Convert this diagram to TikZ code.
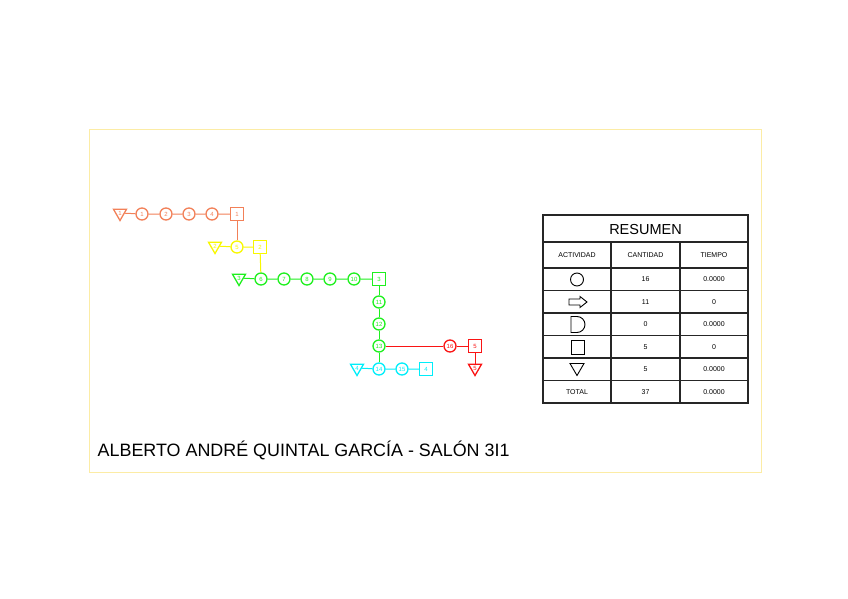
\documentclass[tikz,border=0pt]{standalone}
\usepackage{fontspec}
\setmainfont{Liberation Sans}
\usetikzlibrary{shapes.geometric}
\definecolor{corg}{RGB}{242,128,88}
\definecolor{cyel}{RGB}{248,248,0}
\definecolor{cgrn}{RGB}{30,240,30}
\definecolor{ccyn}{RGB}{0,238,250}
\definecolor{cred}{RGB}{250,20,20}
\definecolor{cfrm}{RGB}{252,236,165}
\tikzset{
  nfont/.style={font=\fontsize{6}{6}\selectfont},
  op/.style={circle,draw,line width=1.3pt,minimum size=12pt,inner sep=0pt,nfont},
  insp/.style={rectangle,draw,line width=1.3pt,minimum size=13pt,inner sep=0pt,nfont},
  stor/.style={regular polygon,regular polygon sides=3,shape border rotate=180,draw,line width=1.3pt,minimum size=15pt,inner sep=0pt,nfont},
  lnk/.style={line width=1pt},
  tline/.style={line width=1.2pt,draw=black!85},
  tsym/.style={line width=0.9pt,draw=black},
  tsmall/.style={font=\fontsize{7}{7}\selectfont},
}
\begin{document}
\begin{tikzpicture}[x=1pt,y=-1pt]
\useasboundingbox (0,0) rectangle (848,599);
\fill[white] (0,0) rectangle (848,599);
\draw[cfrm,line width=0.9pt] (89,129) rectangle (761,472);

% orange row
\begin{scope}[every node/.append style={draw=corg,text=corg}]
\node[stor] (t1) at (120,213) {1};
\node[op] (c1) at (142,214) {1};
\node[op] (c2) at (166,214) {2};
\node[op] (c3) at (189,214) {3};
\node[op] (c4) at (212,214) {4};
\node[insp] (s1) at (237,214) {1};
\end{scope}
% yellow row
\begin{scope}[every node/.append style={draw=cyel,text=cyel}]
\node[stor] (t2) at (215,246) {2};
\node[op] (c5) at (237,247) {5};
\node[insp] (s2) at (260,247) {2};
\end{scope}
% green
\begin{scope}[every node/.append style={draw=cgrn,text=cgrn}]
\node[stor] (t3) at (239,278) {3};
\node[op] (c6) at (261,279) {6};
\node[op] (c7) at (284,279) {7};
\node[op] (c8) at (307,279) {8};
\node[op] (c9) at (330,279) {9};
\node[op] (c10) at (354,279) {10};
\node[insp] (s3) at (379,279) {3};
\node[op] (c11) at (379,302) {11};
\node[op] (c12) at (379,324) {12};
\node[op] (c13) at (379,346) {13};
\end{scope}
% red
\begin{scope}[every node/.append style={draw=cred,text=cred}]
\node[op] (c16) at (450,346) {16};
\node[insp] (s5) at (475,346) {5};
\node[stor] (t5) at (475,368) {5};
\end{scope}
% cyan
\begin{scope}[every node/.append style={draw=ccyn,text=ccyn}]
\node[stor] (t4) at (357,368) {4};
\node[op] (c14) at (379,369) {14};
\node[op] (c15) at (402,369) {15};
\node[insp] (s4) at (426,369) {4};
\end{scope}

\draw[lnk,corg] (t1) -- (c1) -- (c2) -- (c3) -- (c4) -- (s1);
\draw[lnk,corg] (s1) -- (c5);
\draw[lnk,cyel] (t2) -- (c5) -- (s2);
\draw[lnk,cyel] (s2) -- (c6);
\draw[lnk,cgrn] (t3) -- (c6) -- (c7) -- (c8) -- (c9) -- (c10) -- (s3);
\draw[lnk,cgrn] (s3) -- (c11) -- (c12) -- (c13) -- (c14);
\draw[lnk,cred] (c13) -- (c16) -- (s5) -- (t5);
\draw[lnk,ccyn] (t4) -- (c14) -- (c15) -- (s4);

% table
\draw[tline] (543,215) rectangle (748,403);
\foreach \yy in {242,268,290.5,313,335.5,358,380.5} \draw[tline] (543,\yy) -- (748,\yy);
\draw[tline] (611,242) -- (611,403);
\draw[tline] (680,242) -- (680,403);
\node (ttl) at (645.5,229.5) {\fontsize{14.5}{15}\selectfont RESUMEN};
\node[tsmall] (h1) at (577,255.5) {ACTIVIDAD};
\node[tsmall] (h2) at (645.5,255.5) {CANTIDAD};
\node[tsmall] (h3) at (714,255.5) {TIEMPO};
\node[tsmall] (n1) at (645.5,279.5) {16};
\node[tsmall] (n2) at (645.5,302) {11};
\node[tsmall] (n3) at (645.5,324.5) {0};
\node[tsmall] (n4) at (645.5,347) {5};
\node[tsmall] (n5) at (645.5,369.5) {5};
\node[tsmall] (n6) at (645.5,392) {37};
\node[tsmall] (m1) at (714,279.5) {0.0000};
\node[tsmall] (m2) at (714,302) {0};
\node[tsmall] (m3) at (714,324.5) {0.0000};
\node[tsmall] (m4) at (714,347) {0};
\node[tsmall] (m5) at (714,369.5) {0.0000};
\node[tsmall] (m6) at (714,392) {0.0000};
\node[tsmall] (tot) at (577,392) {TOTAL};
% symbols
\draw[tsym] (577,279.5) circle (6.5);
\draw[tsym] (569,299) -- (580,299) -- (580,296.5) -- (587,302) -- (580,307.5) -- (580,305) -- (569,305) -- cycle;
\draw[tsym] (571,316.5) -- (577,316.5) arc[start angle=-90,end angle=90,radius=8] -- (571,332.5) -- cycle;
\draw[tsym] (571,340) rectangle (584,354);
\draw[tsym] (570,363.5) -- (584,363.5) -- (577,375.5) -- cycle;

\node[anchor=base west,inner sep=0pt] (name) at (97.5,456.5) {\fontsize{17.9}{18}\selectfont ALBERTO ANDRÉ QUINTAL GARCÍA - SALÓN 3I1};
\end{tikzpicture}
\end{document}
